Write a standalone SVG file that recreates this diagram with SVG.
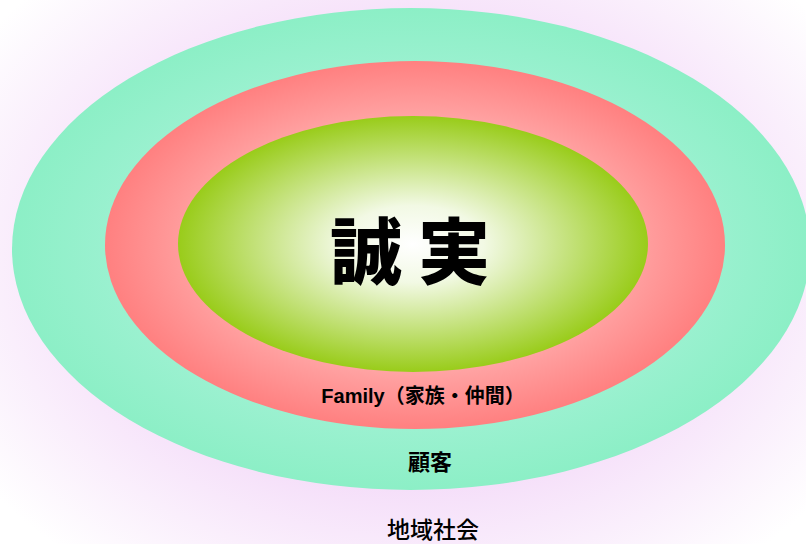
<svg xmlns="http://www.w3.org/2000/svg" width="806" height="544" viewBox="0 0 806 544">
<defs>
<radialGradient id="bg" cx="410" cy="260" r="520" gradientUnits="userSpaceOnUse" gradientTransform="translate(410 260) scale(1 0.75) translate(-410 -260)">
<stop offset="0.5" stop-color="#f3d8f8"/>
<stop offset="1" stop-color="#ffffff"/>
</radialGradient>
<radialGradient id="teal" cx="0.5" cy="0.5" r="0.5">
<stop offset="0.6" stop-color="#a4f2d6"/>
<stop offset="1" stop-color="#8cefc6"/>
</radialGradient>
<radialGradient id="red" cx="0.5" cy="0.5" r="0.5">
<stop offset="0.62" stop-color="#ffacac"/>
<stop offset="1" stop-color="#ff8080"/>
</radialGradient>
<radialGradient id="green" cx="0.5" cy="0.5" r="0.5">
<stop offset="0" stop-color="#ffffff"/>
<stop offset="0.3" stop-color="#f2f9e4"/>
<stop offset="1" stop-color="#99cc1a"/>
</radialGradient>
<style>
.lbl{font-family:"Liberation Sans","Noto Sans CJK JP",sans-serif;fill:#000;text-anchor:middle}
.cjk{font-family:"Noto Sans CJK JP",sans-serif;fill:#000;text-anchor:middle}
</style>
</defs>
<rect width="806" height="544" fill="url(#bg)"/>
<g id="community">
<ellipse cx="411" cy="249" rx="399" ry="241" fill="url(#teal)"/>
<text class="cjk" x="433" y="538" font-size="23" font-weight="500">地域社会</text>
</g>
<g id="customers">
<ellipse cx="415" cy="245" rx="310" ry="184" fill="url(#red)"/>
<text class="cjk" x="430" y="470" font-size="22" font-weight="bold">顧客</text>
</g>
<g id="family">
<ellipse cx="413" cy="244" rx="235" ry="128" fill="url(#green)"/>
<text class="lbl" x="423" y="403" font-size="20" font-weight="bold">Family（家族・仲間）</text>
</g>
<g id="core">
<text class="cjk" x="418" y="278" font-size="72" font-weight="900" letter-spacing="16">誠実</text>
</g>
</svg>
